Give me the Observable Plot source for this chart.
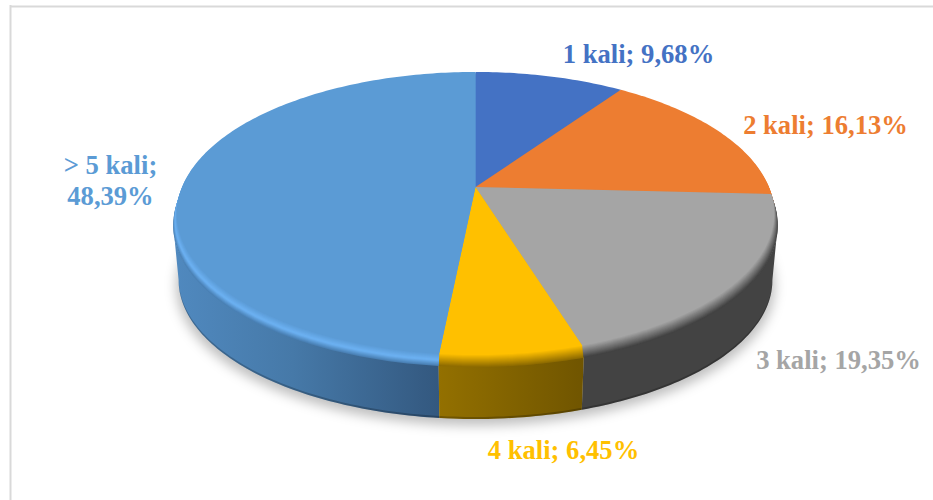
<!DOCTYPE html>
<html>
<head>
<meta charset="utf-8">
<script src="https://cdn.jsdelivr.net/npm/d3@7"></script>
<script src="https://cdn.jsdelivr.net/npm/@observablehq/plot@0.6"></script>
<style>
html,body{margin:0;padding:0;background:#fff}
svg{display:block}
</style>
</head>
<body>
<div id="chart"></div>
<script>
const categories = ["1 kali", "2 kali", "3 kali", "4 kali", "> 5 kali"];
const shares = [9.68, 16.13, 19.35, 6.45, 48.39];
const faceColors = ["#4472c4", "#ed7d31", "#a5a5a5", "#ffc000", "#5b9bd5"];
const rimColors = ["#3f6ab8", "#a8561f", "#434343", "#8f6c00", "#4a80b4"];
const labelTexts = ["1 kali; 9,68%", "2 kali; 16,13%", "3 kali; 19,35%", "4 kali; 6,45%", "> 5 kali;\n48,39%"];
const labelX = [638, 825, 838, 563, 110];
const labelY = [53, 124, 359, 449, 179];

// projection of the tilted disc
const W = 933, H = 500, cx = 475, cy = 186.5, a = 297, b = 136.6, k = 0.187;
const bevel = 12, depth = 67, deepScale = 0.982;
const sideRight = 100.8, sideLeft = 259.2; // where the rim's silhouette turns

function proj(thetaDeg, shift, sx, sy) {
  const t = thetaDeg * Math.PI / 180;
  const u = Math.sin(t), v = Math.cos(t), w = 1 + k * v;
  return {x: sx * u / w, y: sy * v / w - shift / b};
}
const cum = [];
shares.reduce((acc, s, i) => (cum[i] = [acc, acc + s], acc + s), 0);
const ang = cum.map(([s, e]) => [s * 3.6, e * 3.6]);

function arc(t0, t1, shift, sx, sy) {
  const n = Math.max(2, Math.ceil(Math.abs(t1 - t0)));
  return d3.range(n + 1).map(i => proj(t0 + (t1 - t0) * i / n, shift, sx, sy));
}
function wall(i, t0, t1, d0, d1, s0, s1) {
  return [...arc(t0, t1, d0, s0, s0), ...arc(t1, t0, d1, s1, s1)].map(p => ({...p, id: i}));
}

// band layers, deepest first: the rim fades into the flat face
const levels = 12;
const bands = [];
d3.range(levels, -1, -1).forEach(l => {
  const t = l / levels;
  faceColors.forEach((c, i) => {
    let col = d3.interpolateRgb(c, rimColors[i])(t);
    if (i === 4) {
      const hi = "#6db2f3";
      col = t < 0.55 ? d3.interpolateRgb(c, hi)(t / 0.55) : d3.interpolateRgb(hi, rimColors[i])((t - 0.55) / 0.45);
    }
    const sx = 1 - 0.012 * (1 - t);
    const pts = [{x: 0, y: -bevel * t / b}, ...arc(ang[i][0], ang[i][1], bevel * t, sx, 1)];
    pts.forEach(p => bands.push({...p, id: l + "-" + i, fill: col}));
  });
});

const wallGray = wall("g", sideRight, ang[2][1], bevel - 1, depth, 1, deepScale);
const wallYellow = wall("y", ang[3][0], ang[3][1], bevel - 1, depth, 1, deepScale);
const wallBlue = wall("b", ang[4][0], sideLeft, bevel - 1, depth, 1, deepScale);
const wallEdge = wall("e", sideRight, sideLeft, depth - 2, depth, deepScale, deepScale);
const shadow = arc(0, 360, depth + 6, 0.99, 0.985);

const defs = () => {
  const d = d3.create("svg:defs");
  const grad = (id, stops) => {
    const g = d.append("linearGradient").attr("id", id).attr("x1", 0).attr("x2", 1).attr("y1", 0).attr("y2", 0);
    stops.forEach(([o, c]) => g.append("stop").attr("offset", o).attr("stop-color", c));
  };
  grad("wallBlueGrad", [[0, "#5089bf"], [0.45, "#4679a8"], [1, "#33587f"]]);
  grad("wallYellowGrad", [[0, "#937000"], [1, "#705500"]]);
  return d.node();
};

const fx = v => (v - cx) / a;
const fy = v => (cy - v) / b;
const labels = categories.map((c, i) => ({c, text: labelTexts[i], x: fx(labelX[i]), y: fy(labelY[i]), color: faceColors[i]}));

const chart = Plot.plot({
  width: W, height: H, margin: 0,
  style: {background: "transparent"},
  x: {axis: null, domain: [fx(0), fx(W)], range: [0, W]},
  y: {axis: null, domain: [fy(H), fy(0)], range: [H, 0]},
  marks: [
    defs,
    Plot.ruleY([fy(6)], {x1: fx(10), x2: fx(W), stroke: "#d9d9d9", strokeWidth: 2}),
    Plot.ruleX([fx(10)], {y1: fy(5), y2: fy(H), stroke: "#d9d9d9", strokeWidth: 2}),
    Plot.line(shadow, {x: "x", y: "y", fill: "#000", fillOpacity: 0.25, stroke: "none", imageFilter: "blur(6px)"}),
    Plot.line(wallGray, {x: "x", y: "y", fill: "#434343", stroke: "none"}),
    Plot.line(wallBlue, {x: "x", y: "y", fill: "url(#wallBlueGrad)", stroke: "none"}),
    Plot.line(wallYellow, {x: "x", y: "y", fill: "url(#wallYellowGrad)", stroke: "none"}),
    Plot.line(wallEdge, {x: "x", y: "y", fill: "#000", fillOpacity: 0.22, stroke: "none"}),
    Plot.line(bands, {x: "x", y: "y", z: "id", fill: "fill", stroke: "none"}),
    Plot.text(labels, {
      x: "x", y: "y", text: "text", fill: "color",
      fontFamily: "Liberation Serif", fontWeight: "bold", fontSize: 26.6, lineHeight: 1.15
    })
  ]
});
document.getElementById("chart").append(chart);
</script>
</body>
</html>
